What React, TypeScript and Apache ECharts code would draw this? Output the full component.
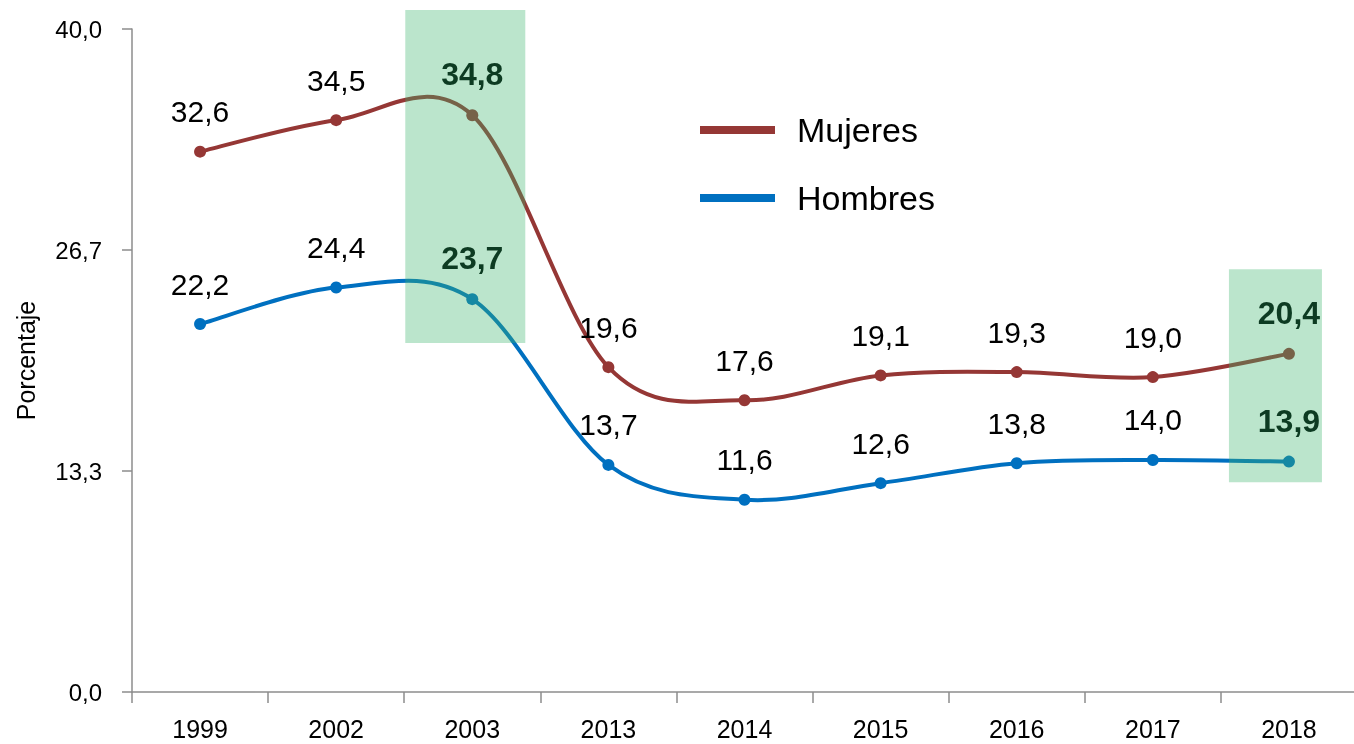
import React, { useEffect, useRef } from "react";
import * as echarts from "echarts";

const categories = ["1999", "2002", "2003", "2013", "2014", "2015", "2016", "2017", "2018"];
const mujeres = [32.6, 34.5, 34.8, 19.6, 17.6, 19.1, 19.3, 19.0, 20.4];
const hombres = [22.2, 24.4, 23.7, 13.7, 11.6, 12.6, 13.8, 14.0, 13.9];
const highlighted = [2, 8];
const yTicks = [0, 40 / 3, 80 / 3, 40];

const FONT = '"Liberation Sans", Arial, sans-serif';
const RED = "#953735";
const BLUE = "#0070c0";

const fmt = (v: number) => v.toFixed(1).replace(".", ",");

// highlight boxes: category index, pixel offsets from category centre, vertical extent
const boxes = [
  { idx: 2, dl: -67, dr: 53, topPx: 10, bottomVal: 21.05 },
  { idx: 8, dl: -60, dr: 33, topVal: 25.5, bottomVal: 12.65 },
];

function buildData(values: number[]) {
  return values.map((v, i) =>
    highlighted.includes(i)
      ? { value: v, label: { fontWeight: "bold", fontSize: 32, color: "#0d3b22" } }
      : v
  );
}

// Excel-like (Catmull-Rom) smoothed curve drawn segment by segment from the data
function curveSeries(values: number[], color: string) {
  return {
    type: "custom",
    silent: true,
    z: 1,
    data: values.map((v, i) => [i, v]),
    renderItem: (params: any, api: any) => {
      const i = params.dataIndex;
      const n = values.length;
      if (i >= n - 1) return null;
      const pt = (k: number) => {
        const kk = Math.max(0, Math.min(n - 1, k));
        return api.coord([kk, values[kk]]);
      };
      const p0 = pt(i - 1);
      const p1 = pt(i);
      const p2 = pt(i + 1);
      const p3 = pt(i + 2);
      return {
        type: "bezierCurve",
        shape: {
          x1: p1[0],
          y1: p1[1],
          x2: p2[0],
          y2: p2[1],
          cpx1: p1[0] + (p2[0] - p0[0]) / 6,
          cpy1: p1[1] + (p2[1] - p0[1]) / 6,
          cpx2: p2[0] - (p3[0] - p1[0]) / 6,
          cpy2: p2[1] - (p3[1] - p1[1]) / 6,
        },
        style: { stroke: color, lineWidth: 4, fill: "none", lineCap: "round" },
      };
    },
  };
}

const seriesLabel = {
  show: true,
  position: "top",
  distance: 19,
  fontFamily: FONT,
  fontSize: 30,
  color: "#000",
  formatter: (p: any) => fmt(p.value),
};

function markerSeries(name: string, values: number[], color: string) {
  return {
    name,
    type: "line",
    z: 3,
    data: values,
    symbol: "circle",
    symbolSize: 12,
    itemStyle: { color },
    lineStyle: { color, width: 4, opacity: 0 },
    label: { show: false },
  };
}

function labelSeries(name: string, values: number[]) {
  return {
    name,
    type: "line",
    z: 200,
    silent: true,
    data: buildData(values),
    symbol: "circle",
    symbolSize: 12,
    itemStyle: { color: "rgba(0,0,0,0)" },
    lineStyle: { opacity: 0 },
    label: seriesLabel,
  };
}

export default function App() {
  const ref = useRef<HTMLDivElement>(null);
  useEffect(() => {
    if (!ref.current) return;
    const chart = echarts.init(ref.current, undefined, { renderer: "svg" });
    chart.setOption({
      animation: false,
      grid: { left: 132, right: -3, top: 29, bottom: 52, outerBoundsMode: "none", containLabel: false },
      legend: {
        orient: "vertical",
        left: 700,
        top: 113,
        padding: 0,
        icon: "rect",
        itemWidth: 75,
        itemHeight: 8,
        itemGap: 34,
        data: [
          { name: "Mujeres", itemStyle: { color: RED, opacity: 1 } },
          { name: "Hombres", itemStyle: { color: BLUE, opacity: 1 } },
        ],
        textStyle: { fontFamily: FONT, fontSize: 34, color: "#000", padding: [0, 0, 0, 17] },
      },
      xAxis: {
        type: "category",
        data: categories,
        boundaryGap: true,
        axisLine: { lineStyle: { color: "#8c8c8c", width: 1.5 } },
        axisTick: { show: true, length: 11, interval: 0, lineStyle: { color: "#8c8c8c", width: 1.5 } },
        axisLabel: { fontFamily: FONT, fontSize: 25, color: "#000", margin: 24, interval: 0 },
        splitLine: { show: false },
      },
      yAxis: {
        type: "value",
        min: 0,
        max: 40,
        interval: 40 / 3,
        name: "Porcentaje",
        nameLocation: "middle",
        nameGap: 94,
        nameTextStyle: { fontFamily: FONT, fontSize: 25, color: "#000" },
        axisLine: { show: true, lineStyle: { color: "#8c8c8c", width: 1.5 } },
        axisTick: { show: true, length: 10, lineStyle: { color: "#8c8c8c", width: 1.5 } },
        axisLabel: {
          fontFamily: FONT,
          fontSize: 24,
          color: "#000",
          margin: 30,
          formatter: (v: number) => {
            const t = yTicks.find((x) => Math.abs(x - v) < 1e-6);
            return fmt(t ?? v);
          },
        },
        splitLine: { show: false },
      },
      series: [
        curveSeries(mujeres, RED),
        curveSeries(hombres, BLUE),
        markerSeries("Mujeres", mujeres, RED),
        markerSeries("Hombres", hombres, BLUE),
        labelSeries("Mujeres etiquetas", mujeres),
        labelSeries("Hombres etiquetas", hombres),
      ],
    });

    const rects = boxes.map((b: any) => {
      const c = chart.convertToPixel({ gridIndex: 0 }, [b.idx, 0]) as number[];
      const top =
        b.topPx !== undefined
          ? b.topPx
          : (chart.convertToPixel({ gridIndex: 0 }, [b.idx, b.topVal]) as number[])[1];
      const bottom = (chart.convertToPixel({ gridIndex: 0 }, [b.idx, b.bottomVal]) as number[])[1];
      return {
        type: "rect",
        z: 100,
        silent: true,
        shape: { x: c[0] + b.dl, y: top, width: b.dr - b.dl, height: bottom - top },
        style: { fill: "rgba(60,180,110,0.35)" },
      };
    });
    chart.setOption({ graphic: rects });

    return () => chart.dispose();
  }, []);
  return <div ref={ref} style={{ position: "fixed", left: 0, top: 0, width: 1354, height: 744 }} />;
}
